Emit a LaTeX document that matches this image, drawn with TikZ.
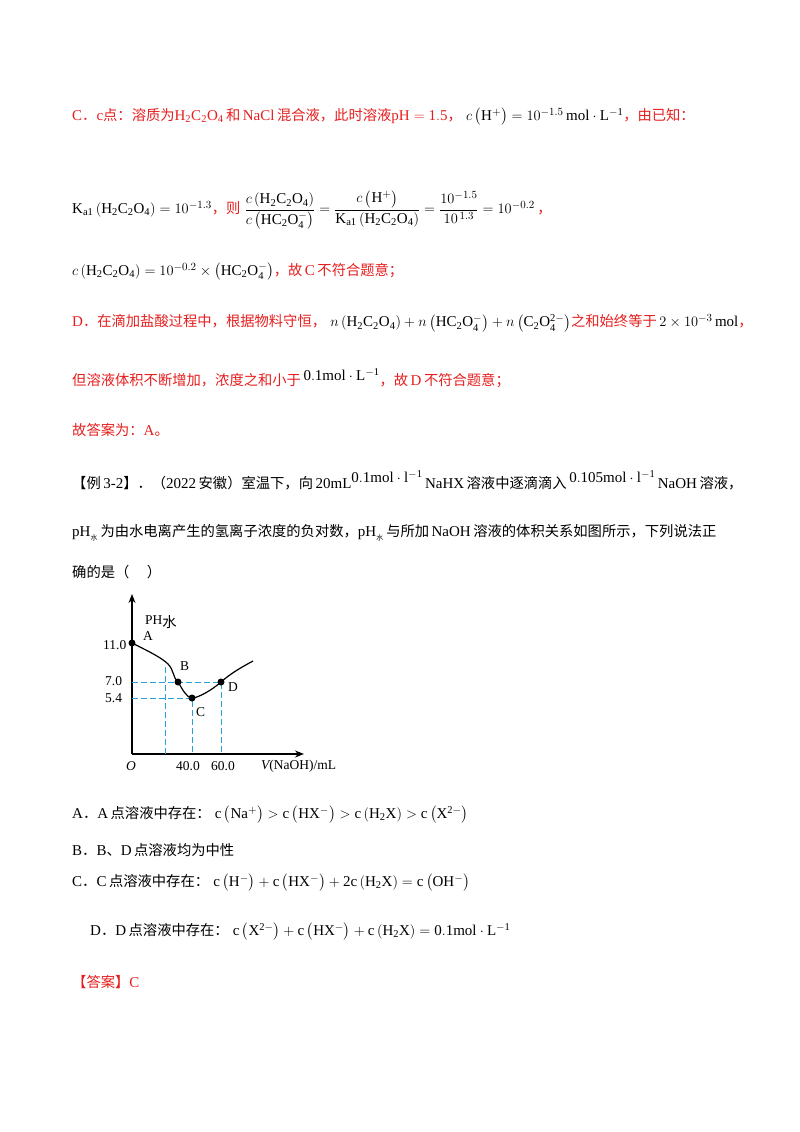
\documentclass[tikz,border=0pt]{standalone}
\usepackage{fontspec}
\usepackage{amsmath}
\usetikzlibrary{arrows.meta}
\setmainfont{Liberation Serif}
\newfontfamily\cjk{Noto Sans CJK SC}
\definecolor{rd}{RGB}{230,30,30}
\definecolor{db}{RGB}{40,160,220}
\newcommand{\zh}[1]{{\cjk\fontsize{14.3}{16}\selectfont #1}}
\begin{document}
\begin{tikzpicture}[x=1pt,y=-1pt,
  t/.style={anchor=west,inner sep=0pt,font=\fontsize{15}{17}\selectfont},
  g/.style={anchor=west,inner sep=0pt,font=\fontsize{13.5}{15}\selectfont},
  dot/.style={circle,fill=black,inner sep=0pt,minimum size=7pt},
  dsh/.style={db,dash pattern=on 6pt off 3pt,line width=0.9pt}]
\useasboundingbox (0,0) rectangle (800,1132);
\node[t,text=rd] (l1) at (72,117) {C\zh{．}c\zh{点：溶质为}$\mathrm{H_2C_2O_4}$\,\zh{和}\,NaCl\,\zh{混合液，此时溶液}$\mathrm{pH=1.5}$\zh{，}\;\textcolor{black}{$c\left(\mathrm{H^+}\right)=10^{-1.5}\,\mathrm{mol\cdot L^{-1}}$}\zh{，由已知：}};
\node[t] (l2) at (72,210) {$\mathrm{K_{a1}}\left(\mathrm{H_2C_2O_4}\right)=10^{-1.3}$\textcolor{rd}{\zh{，则}}\;$\dfrac{c\left(\mathrm{H_2C_2O_4}\right)}{c\left(\mathrm{HC_2O_4^-}\right)}=\dfrac{c\left(\mathrm{H^+}\right)}{\mathrm{K_{a1}}\left(\mathrm{H_2C_2O_4}\right)}=\dfrac{10^{-1.5}}{10^{\,1.3}}=10^{-0.2}$\,\textcolor{rd}{\zh{，}}};
\node[t] (l3) at (72,272) {$c\left(\mathrm{H_2C_2O_4}\right)=10^{-0.2}\times\left(\mathrm{HC_2O_4^-}\right)$\textcolor{rd}{\zh{，故}\,C\,\zh{不符合题意；}}};
\node[t,text=rd] (l4) at (72,323) {D\zh{．在滴加盐酸过程中，根据物料守恒，}\;\textcolor{black}{$n\left(\mathrm{H_2C_2O_4}\right)+n\left(\mathrm{HC_2O_4^-}\right)+n\left(\mathrm{C_2O_4^{2-}}\right)$}\zh{之和始终等于}\,\textcolor{black}{$2\times10^{-3}\,\mathrm{mol}$}\zh{，}};
\node[t,text=rd] (l5) at (72,378) {\zh{但溶液体积不断增加，浓度之和小于}\,\raisebox{5pt}{\textcolor{black}{$\mathrm{0.1mol\cdot L^{-1}}$}}\zh{，故}\,D\,\zh{不符合题意；}};
\node[t,text=rd] (l6) at (72,430) {\zh{故答案为：}A\zh{。}};
\node[t] (l7) at (72,480) {\zh{【例}\,3-2\zh{】．（}2022\,\zh{安徽）室温下，向}\,20mL\raisebox{6pt}{$\mathrm{0.1mol\cdot l^{-1}}$}\,NaHX\,\zh{溶液中逐滴滴入}\,\raisebox{6pt}{$\mathrm{0.105mol\cdot l^{-1}}$}\,NaOH\,\zh{溶液，}};
\node[t] (l8) at (72,533) {$\mathrm{pH}_{\text{\zh{\scriptsize 水}}}$\,\zh{为由水电离产生的氢离子浓度的负对数，}$\mathrm{pH}_{\text{\zh{\scriptsize 水}}}$\,\zh{与所加}\,NaOH\,\zh{溶液的体积关系如图所示，下列说法正}};
\node[t] (l9) at (72,572) {\zh{确的是（\quad\ ）}};
% graph
\coordinate (O) at (132,754);
\coordinate (ytop) at (132,594);
\coordinate (xend) at (304,754);
\draw[line width=1.3pt,-{Stealth[length=9pt,width=7pt]}] (O) -- (ytop);
\draw[line width=1.3pt,-{Stealth[length=9pt,width=7pt]}] (O) -- (xend);
\coordinate (A) at (132,643);
\coordinate (B) at (178,682);
\coordinate (C) at (192,698);
\coordinate (D) at (221,682);
\coordinate (E) at (253,661);
\draw[dsh] (132,682) -- (D) -- (221,754);
\draw[dsh] (132,698) -- (C) -- (192,754);
\draw[dsh] (165,667) -- (165,754);
\draw[line width=1.2pt] (A) .. controls (150,652) and (162,658) .. (168,664) .. controls (174,670) and (173,678) .. (B) .. controls (183,690) and (186,697) .. (C) .. controls (198,698) and (212,690) .. (D) .. controls (230,674) and (240,668) .. (E);
\foreach \p in {A,B,C,D} \node[dot] (d\p) at (\p) {};
\node[g] (tA) at (143,636) {A};
\node[g] (tB) at (180,666) {B};
\node[g] (tC) at (196,712) {C};
\node[g] (tD) at (228,687) {D};
\node[g] (y1) at (103,645) {11.0};
\node[g] (y2) at (105,681) {7.0};
\node[g] (y3) at (105,698) {5.4};
\node[g] (ph) at (145,622) {PH\raisebox{-3pt}{\zh{水}}};
\node[g] (to) at (126,766) {\itshape O};
\node[g] (x1) at (176,766) {40.0};
\node[g] (x2) at (211,766) {60.0};
\node[g] (xl) at (261,766) {\itshape V\upshape(NaOH)/mL};
% options
\node[t] (oA) at (72,815) {A\zh{．}A\,\zh{点溶液中存在：}\;$\mathrm{c\left(Na^+\right)>c\left(HX^-\right)>c\left(H_2X\right)>c\left(X^{2-}\right)}$};
\node[t] (oB) at (72,850) {B\zh{．}B\zh{、}D\,\zh{点溶液均为中性}};
\node[t] (oC) at (72,883) {C\zh{．}C\,\zh{点溶液中存在：}\;$\mathrm{c\left(H^-\right)+c\left(HX^-\right)+2c\left(H_2X\right)=c\left(OH^-\right)}$};
\node[t] (oD) at (90,932) {D\zh{．}D\,\zh{点溶液中存在：}\;$\mathrm{c\left(X^{2-}\right)+c\left(HX^-\right)+c\left(H_2X\right)=0.1mol\cdot L^{-1}}$};
\node[t,text=rd] (ans) at (72,982) {\zh{【答案】}C};
\end{tikzpicture}
\end{document}
